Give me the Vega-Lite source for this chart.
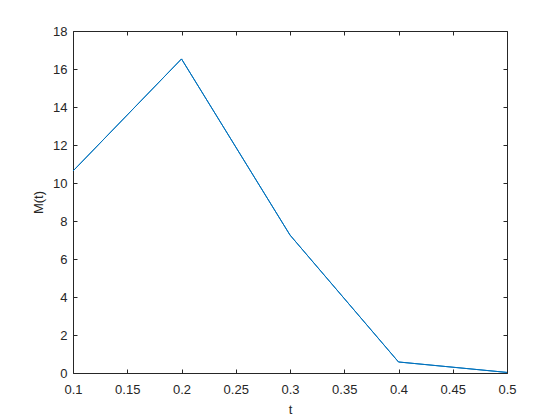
{
  "$schema": "https://vega.github.io/schema/vega-lite/v6.json",
  "autosize": "none",
  "width": 434,
  "height": 342,
  "padding": {"left": 73, "top": 31, "right": 53, "bottom": 47},
  "background": "white",
  "config": {
    "view": {"stroke": "#262626", "strokeWidth": 1},
    "font": "Liberation Sans",
    "axis": {
      "domain": false,
      "tickColor": "#262626",
      "labelColor": "#262626",
      "titleColor": "#262626",
      "labelFont": "Liberation Sans",
      "titleFont": "Liberation Sans",
      "labelFontSize": 13,
      "titleFontSize": 13,
      "titleFontWeight": "normal",
      "grid": false,
      "tickSize": 4,
      "offset": -4,
      "tickWidth": 1
    }
  },
  "data": {
    "values": [
      {"t": 0.1, "M": 10.63},
      {"t": 0.2, "M": 16.53},
      {"t": 0.3, "M": 7.26},
      {"t": 0.4, "M": 0.58},
      {"t": 0.5, "M": 0.03}
    ]
  },
  "resolve": {"axis": {"x": "independent", "y": "independent"}},
  "layer": [
    {
      "mark": {"type": "line", "color": "#0072BD", "strokeWidth": 1},
      "encoding": {
        "x": {
          "field": "t", "type": "quantitative",
          "scale": {"domain": [0.1, 0.5], "nice": false, "zero": false},
          "axis": {"title": "t", "format": "~g", "values": [0.1,0.15,0.2,0.25,0.3,0.35,0.4,0.45,0.5], "labelPadding": 10, "titlePadding": 7, "labelFlush": false}
        },
        "y": {
          "field": "M", "type": "quantitative",
          "scale": {"domain": [0, 18], "nice": false},
          "axis": {"title": "M(t)", "values": [0,2,4,6,8,10,12,14,16,18], "labelPadding": 6, "titlePadding": 7, "labelFlush": false}
        }
      }
    },
    {
      "mark": {"type": "line", "color": "#0072BD", "strokeWidth": 1},
      "encoding": {
        "x": {
          "field": "t", "type": "quantitative",
          "scale": {"domain": [0.1, 0.5], "nice": false, "zero": false},
          "axis": {"orient": "top", "title": null, "labels": false, "values": [0.1,0.15,0.2,0.25,0.3,0.35,0.4,0.45,0.5]}
        },
        "y": {
          "field": "M", "type": "quantitative",
          "scale": {"domain": [0, 18], "nice": false},
          "axis": {"orient": "right", "title": null, "labels": false, "values": [0,2,4,6,8,10,12,14,16,18]}
        }
      }
    }
  ]
}
